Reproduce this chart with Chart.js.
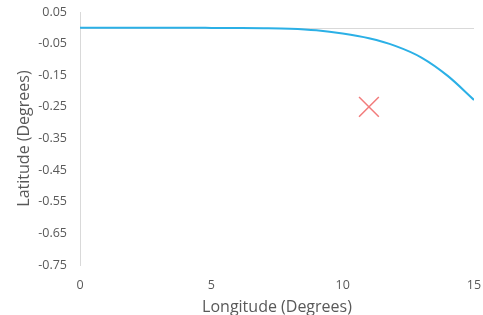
<!DOCTYPE html>
<html>
<head>
<meta charset="utf-8">
<script src="https://cdn.jsdelivr.net/npm/chart.js@4"></script>
<style>
  html, body { margin:0; padding:0; background:#fff; }
  #wrap { width:483px; height:315px; }
</style>
</head>
<body>
<div id="wrap"><canvas id="chart"></canvas></div>
<script>
// longitude (deg) and latitude (deg) of the curve
const longitude = [0, 1, 2, 3, 4, 5, 6, 7, 8, 9, 10, 11, 12, 13, 14, 15];
const latitude = [0, 0, 0, 0, 0, -0.0002, -0.0005, -0.0012, -0.003, -0.008, -0.018, -0.033, -0.057, -0.094, -0.152, -0.228];

// single marked point
const markLon = [11];
const markLat = [-0.25];

const xTicks = [0, 5, 10, 15];
const yTicks = [0.05, -0.05, -0.15, -0.25, -0.35, -0.45, -0.55, -0.65, -0.75];

const grey = "#595959";
const font = { family: "'Open Sans', sans-serif", size: 12.5 };
const titleFont = { family: "'Open Sans', sans-serif", size: 16 };

// axis line at latitude 0 (labels stay at the bottom)
const zeroLine = {
  id: "zeroLine",
  beforeDatasetsDraw(chart){
    const { ctx, scales:{ x, y } } = chart;
    const py = Math.round(y.getPixelForValue(0)) + 0.5;
    ctx.save();
    ctx.strokeStyle = "#d9d9d9";
    ctx.lineWidth = 1;
    ctx.beginPath();
    ctx.moveTo(x.left, py);
    ctx.lineTo(x.right, py);
    ctx.stroke();
    ctx.restore();
  }
};

new Chart(document.getElementById("chart"), {
  type: "scatter",
  data: {
    datasets: [
      {
        data: longitude.map((v, i) => ({ x: v, y: latitude[i] })),
        showLine: true,
        borderColor: "#2BB0E6",
        borderWidth: 2,
        pointRadius: 0,
        cubicInterpolationMode: "monotone"
      },
      {
        data: markLon.map((v, i) => ({ x: v, y: markLat[i] })),
        pointStyle: "crossRot",
        pointRadius: 14,
        borderColor: "#F27C7C",
        borderWidth: 1.5,
        backgroundColor: "#F27C7C"
      }
    ]
  },
  options: {
    responsive: true,
    maintainAspectRatio: false,
    animation: false,
    layout: { autoPadding: false, padding: { top: 12, right: 9, left: 15, bottom: 0 } },
    plugins: { legend: { display:false }, tooltip: { enabled:false } },
    scales: {
      x: {
        type: "linear",
        min: 0, max: 15,
        afterBuildTicks: s => { s.ticks = xTicks.map(v => ({ value: v })); },
        afterFit: s => { s.height = 50; s.paddingLeft = 0; s.paddingRight = 0; },
        grid: { display:false, drawTicks:false },
        border: { display:false },
        ticks: { color: grey, font, padding: 12.5, maxRotation: 0 },
        title: { display:true, text:"Longitude (Degrees)", color: grey, font: titleFont, padding: { top: 0, bottom: -2 } }
      },
      y: {
        min: -0.75, max: 0.05,
        afterBuildTicks: s => { s.ticks = yTicks.map(v => ({ value: v })); },
        afterFit: s => { s.width = 65; s.paddingTop = 0; s.paddingBottom = 0; },
        grid: { display:false, drawTicks:false },
        border: { display:true, color:"#d9d9d9", width:1 },
        ticks: { color: grey, font, padding: 13, callback: v => v.toFixed(2) },
        title: { display:true, text:"Latitude (Degrees)", color: grey, font: titleFont, padding: { top: 0, bottom: 0 } }
      }
    }
  },
  plugins: [zeroLine]
});
</script>
</body>
</html>
